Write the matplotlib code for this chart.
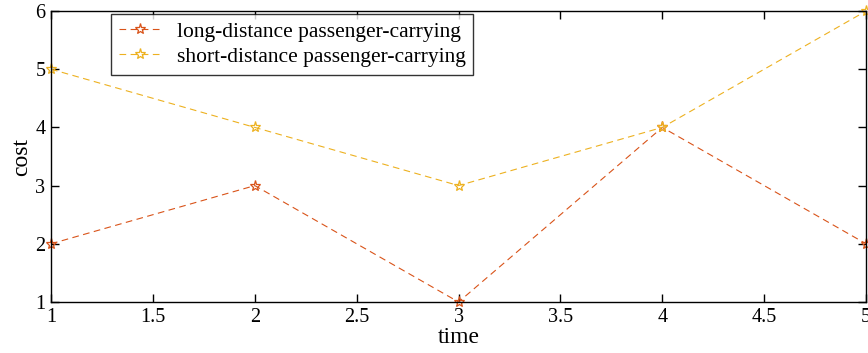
import matplotlib
matplotlib.use("Agg")
import matplotlib.pyplot as plt

time = [1, 2, 3, 4, 5]
long_cost = [2, 3, 1, 4, 2]
short_cost = [5, 4, 3, 4, 6]
x_ticks = [1, 1.5, 2, 2.5, 3, 3.5, 4, 4.5, 5]
y_ticks = [1, 2, 3, 4, 5, 6]

plt.rcParams['font.family'] = ['Liberation Serif', 'DejaVu Serif']

fig = plt.figure(figsize=(8.68, 3.53), dpi=100)
ax = fig.add_axes([0.0588, 0.1445, 0.939, 0.8243])

ax.plot(time, long_cost, color='#D95319', ls=(0, (6, 4)), lw=0.8,
        marker='*', ms=8, mfc='none', mew=0.9,
        label='long-distance passenger-carrying', clip_on=False)
ax.plot(time, short_cost, color='#EDB120', ls=(0, (6, 4)), lw=0.8,
        marker='*', ms=8, mfc='none', mew=0.9,
        label='short-distance passenger-carrying', clip_on=False)

ax.set_xlim(1, 5)
ax.set_ylim(1, 6)
ax.set_xticks(x_ticks)
ax.set_xticklabels(['1', '1.5', '2', '2.5', '3', '3.5', '4', '4.5', '5'])
ax.set_yticks(y_ticks)
ax.tick_params(direction='in', length=6, width=1, labelsize=14.5,
               top=True, right=True)
ax.tick_params(axis='x', pad=4)
ax.tick_params(axis='y', pad=4)
for s in ax.spines.values():
    s.set_linewidth(1)

ax.set_xlabel('time', fontsize=17, labelpad=0)
ax.set_ylabel('cost', fontsize=17, labelpad=2)

leg = ax.legend(loc='upper left', bbox_to_anchor=(0.0736, 0.99),
                borderaxespad=0, fontsize=15.5,
                frameon=True, fancybox=False, edgecolor='black',
                handlelength=2.0, borderpad=0.35, labelspacing=0.25,
                handletextpad=0.7)
leg.get_frame().set_linewidth(1)

fig.savefig('out.png', dpi=100)
